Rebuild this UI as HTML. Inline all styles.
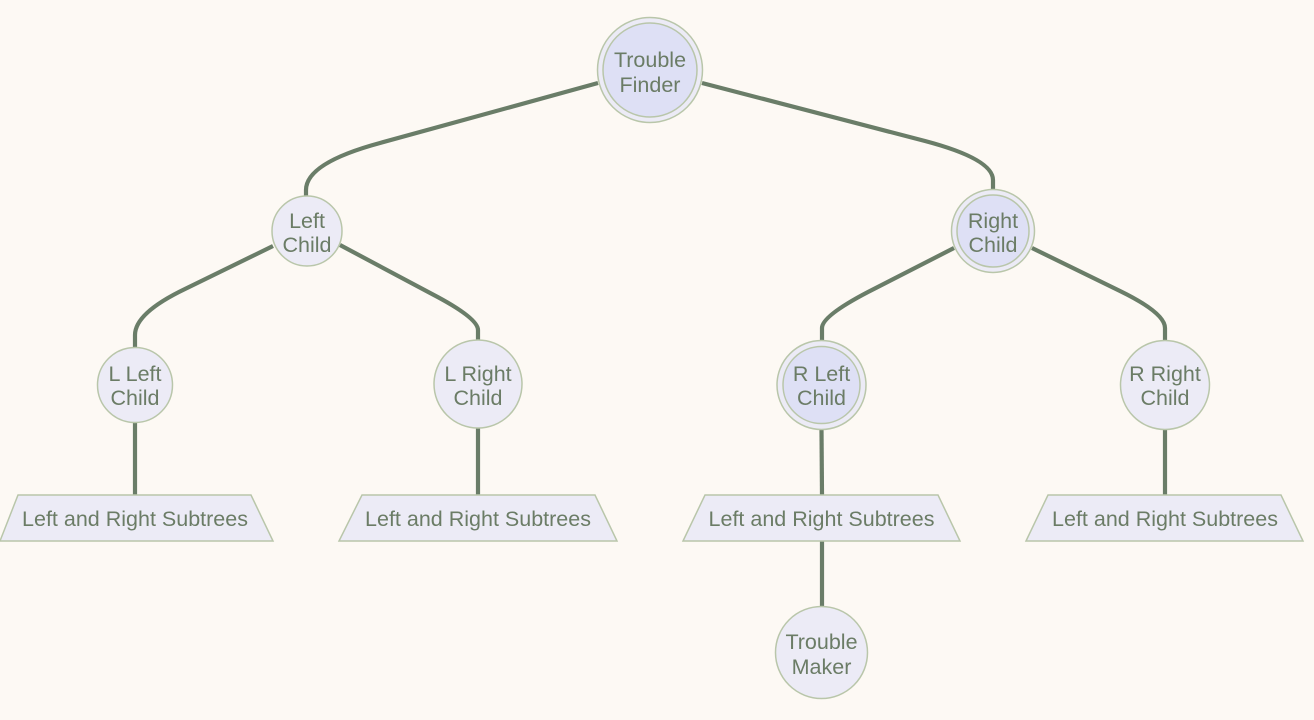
<!DOCTYPE html>
<html>
<head>
<meta charset="utf-8">
<style>
  html,body{margin:0;padding:0;background:#fdf9f4;}
  svg{display:block;}
  text{font-family:"Liberation Sans",Arial,sans-serif;font-size:21.5px;fill:#6b7c66;text-anchor:middle;dominant-baseline:central;}
</style>
</head>
<body>
<svg width="1314" height="720" viewBox="0 0 1314 720" xmlns="http://www.w3.org/2000/svg">
  <rect width="1314" height="720" fill="#fdf9f4"/>
  <g fill="none" stroke="#6a7d68" stroke-width="4.2" stroke-linecap="butt">
    <path d="M598,83 L380,143 Q306,163 306,190 L306,197"/>
    <path d="M702,83 L925,141 Q993,159 993,180 L993,190"/>
    <path d="M273,246 L185,289 Q135,313 135,335 L135,348"/>
    <path d="M340,245 L432,294 Q478,318 478,330 L478,341"/>
    <path d="M954,248 L868,292 Q822,316 822,328 L822,341"/>
    <path d="M1032,248 L1120,291 Q1165,313 1165,328 L1165,341"/>
    <path d="M135,422 L135,495"/>
    <path d="M478,428 L478,495"/>
    <path d="M821.5,430 L822,495"/>
    <path d="M1165,429 L1165,495"/>
    <path d="M822,541 L822,607"/>
  </g>

  <g stroke="#b9c6aa" stroke-width="1.5">
    <circle cx="650" cy="70" r="52.5" fill="#ecebf6"/>
    <circle cx="650" cy="70" r="47" fill="#dee0f5"/>
    <circle cx="307" cy="231" r="35" fill="#ecebf6"/>
    <circle cx="993" cy="231" r="41.5" fill="#ecebf6"/>
    <circle cx="993" cy="231" r="36" fill="#dee0f5"/>
    <circle cx="135" cy="385" r="37.5" fill="#ecebf6"/>
    <circle cx="478" cy="384" r="44" fill="#ecebf6"/>
    <circle cx="821.5" cy="385" r="44.5" fill="#ecebf6"/>
    <circle cx="821.5" cy="385" r="38.5" fill="#dee0f5"/>
    <circle cx="1165" cy="385" r="44.5" fill="#ecebf6"/>
    <circle cx="821.5" cy="652.5" r="46" fill="#ecebf6"/>
    <polygon points="18,495 251,495 273,541 0,541" fill="#ecebf6"/>
    <polygon points="362,495 595,495 617,541 339,541" fill="#ecebf6"/>
    <polygon points="705,495 938,495 960,541 683,541" fill="#ecebf6"/>
    <polygon points="1048,495 1281,495 1303,541 1026,541" fill="#ecebf6"/>
  </g>

  <text x="650" y="60">Trouble</text>
  <text x="650" y="85">Finder</text>
  <text x="307" y="221">Left</text>
  <text x="307" y="245">Child</text>
  <text x="993" y="221">Right</text>
  <text x="993" y="245">Child</text>
  <text x="135" y="374">L Left</text>
  <text x="135" y="398">Child</text>
  <text x="478" y="374">L Right</text>
  <text x="478" y="398">Child</text>
  <text x="821.5" y="374">R Left</text>
  <text x="821.5" y="398">Child</text>
  <text x="1165" y="374">R Right</text>
  <text x="1165" y="398">Child</text>
  <text x="135" y="519">Left and Right Subtrees</text>
  <text x="478" y="519">Left and Right Subtrees</text>
  <text x="821.5" y="519">Left and Right Subtrees</text>
  <text x="1165" y="519">Left and Right Subtrees</text>
  <text x="821.5" y="642">Trouble</text>
  <text x="821.5" y="667">Maker</text>
</svg>
</body>
</html>
